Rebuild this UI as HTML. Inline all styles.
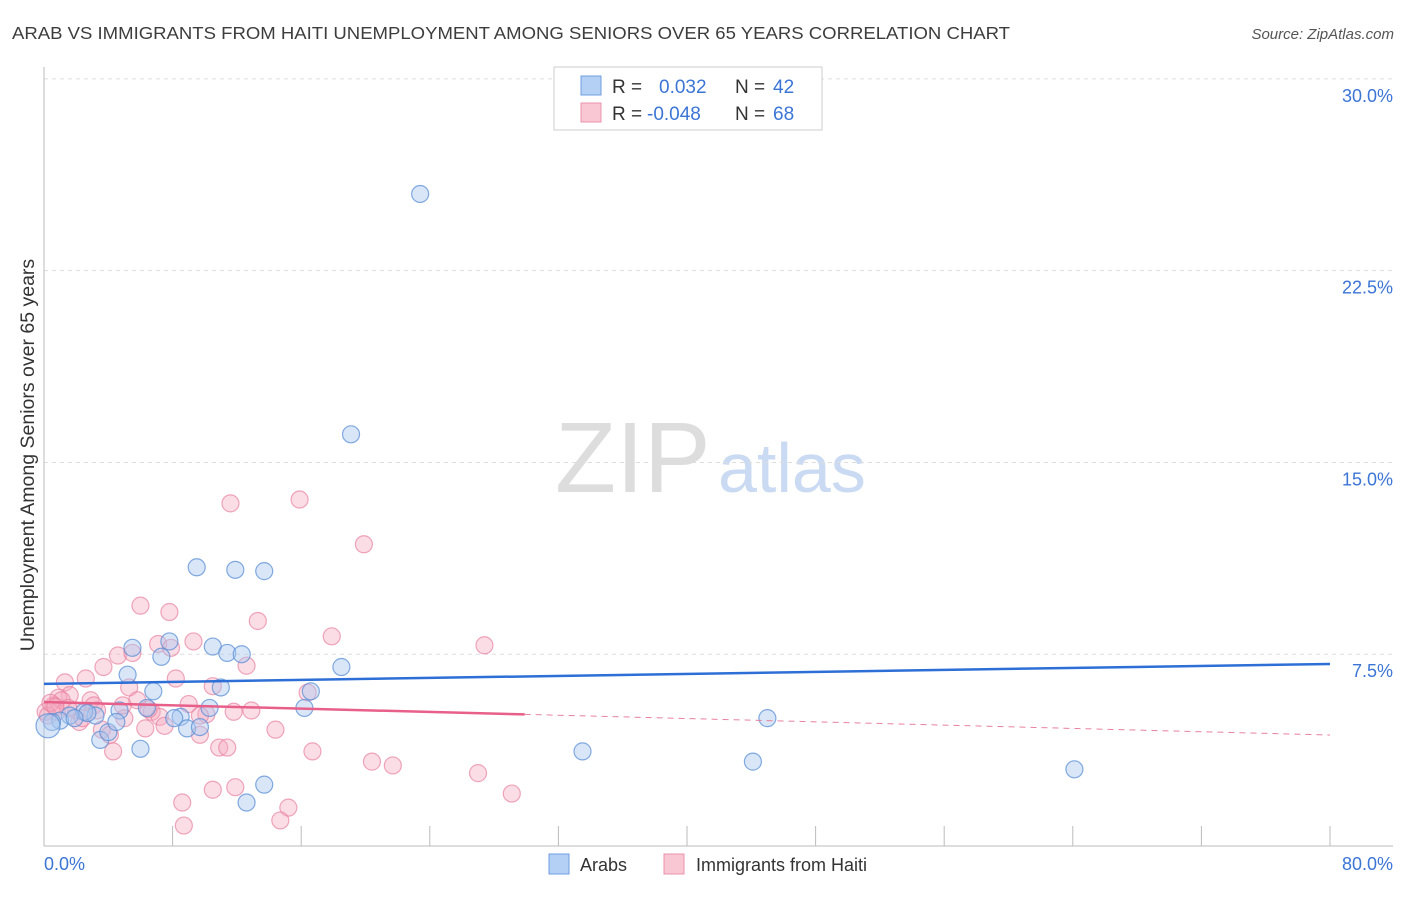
<!DOCTYPE html>
<html><head><meta charset="utf-8"><style>
body{margin:0;background:#fff;font-family:"Liberation Sans",sans-serif}
svg text{font-family:"Liberation Sans",sans-serif}
</style></head><body>
<svg id="c" width="1406" height="892">
<text x="12" y="39" font-size="17.5" fill="#3d3d3d" textLength="998" lengthAdjust="spacingAndGlyphs">ARAB VS IMMIGRANTS FROM HAITI UNEMPLOYMENT AMONG SENIORS OVER 65 YEARS CORRELATION CHART</text>
<text x="1394" y="39" font-size="15" fill="#555" text-anchor="end" font-style="italic">Source: ZipAtlas.com</text>
<text x="555" y="492" font-size="100" fill="#ddd" font-family="Liberation Serif">ZIP</text>
<text x="718" y="492" font-size="70" fill="#c9daf2">atlas</text>
<text transform="translate(34,455) rotate(-90)" font-size="19.5" fill="#333" text-anchor="middle">Unemployment Among Seniors over 65 years</text>
<g id="grid"></g><g id="pts"></g><g id="lines"></g>
<g>
<rect x="554" y="67" width="268" height="63" fill="#fff" stroke="#ccc"/>
<rect x="581" y="76" width="20" height="19" fill="#b4d0f4" stroke="#6f9ee0"/>
<rect x="581" y="103" width="20" height="19" fill="#f9c6d4" stroke="#eb93ad"/>
<text x="612" y="93" font-size="19" fill="#333">R =</text>
<text x="659" y="93" font-size="19" fill="#3b75d6">0.032</text>
<text x="735" y="93" font-size="19" fill="#333">N =</text>
<text x="773" y="93" font-size="19" fill="#3b75d6">42</text>
<text x="612" y="120" font-size="19" fill="#333">R =</text>
<text x="647" y="120" font-size="19" fill="#3b75d6">-0.048</text>
<text x="735" y="120" font-size="19" fill="#333">N =</text>
<text x="773" y="120" font-size="19" fill="#3b75d6">68</text>
</g>
<g>
<rect x="549" y="854" width="20" height="20" fill="#b4d0f4" stroke="#6f9ee0"/>
<text x="580" y="871" font-size="18" fill="#333">Arabs</text>
<rect x="664" y="854" width="20" height="20" fill="#f9c6d4" stroke="#eb93ad"/>
<text x="696" y="871" font-size="18" fill="#333">Immigrants from Haiti</text>
</g>
</svg>
<script>
const yTicks=[7.5,15,22.5,30];
const yTickLabels=["7.5%","15.0%","22.5%","30.0%"];
const xTicks=[0,8,16,24,32,40,48,56,64,72,80];
const xEndLabels=["0.0%","80.0%"];
const arabX=[23.4,19.1,9.5,11.9,13.7,7.8,5.5,10.5,11.4,12.3,7.3,18.5,5.2,6.8,11.0,16.6,16.2,10.3,8.5,8.1,6.4,4.7,3.2,2.5,1.6,1.0,0.5,0.25,3.5,4.0,4.5,8.9,9.7,6.0,13.7,12.6,33.5,44.1,45.0,64.1,2.7,1.9];
const arabY=[25.5,16.1,10.9,10.8,10.75,8.0,7.75,7.8,7.55,7.5,7.4,7.0,6.7,6.05,6.2,6.05,5.4,5.4,5.05,5.0,5.4,5.3,5.1,5.25,5.1,4.9,4.85,4.7,4.15,4.45,4.85,4.6,4.65,3.8,2.4,1.7,3.7,3.3,5.0,3.0,5.2,5.0];
const haitiX=[11.6,15.9,19.9,6.0,7.8,13.3,17.9,27.4,7.1,9.3,7.9,4.6,5.5,12.6,3.7,2.6,1.3,8.2,5.3,10.5,1.6,16.4,5.8,9.0,2.9,0.9,0.6,6.7,7.2,10.1,11.8,12.9,5.0,2.2,3.6,6.3,7.5,9.7,14.4,4.3,10.9,11.4,16.7,20.4,21.7,27.0,29.1,11.9,10.5,8.6,15.2,14.7,8.7,0.8,0.1,1.1,4.1,4.9,3.1,0.25,9.7,2.0,1.5,0.4,3.3,6.5,2.4,0.7];
const haitiY=[13.4,13.55,11.8,9.4,9.15,8.8,8.2,7.85,7.9,8.0,7.75,7.45,7.55,7.05,7.0,6.55,6.4,6.55,6.2,6.25,5.9,6.0,5.7,5.55,5.7,5.8,5.5,5.25,5.05,5.15,5.25,5.3,5.0,4.85,4.55,4.6,4.7,4.35,4.55,3.7,3.85,3.85,3.7,3.3,3.15,2.85,2.05,2.3,2.2,1.7,1.5,1.0,0.8,5.25,5.25,5.7,4.35,5.5,5.5,5.1,5.1,5.3,5.4,5.6,5.3,5.35,5.0,5.45];
const arabTrend=[6.34,7.12];
const haitiTrend=[5.63,4.34];
const haitiSolidEnd=29.9;
const NS="http://www.w3.org/2000/svg";
const X0=44,X1=1330,Y0=846,PX=25.57;
const xs=v=>X0+v/80*(X1-X0);
const ys=v=>Y0-v*PX;
function mk(t,a,p){const e=document.createElementNS(NS,t);for(const k in a)e.setAttribute(k,a[k]);p.appendChild(e);return e;}
const grid=document.getElementById('grid');
yTicks.forEach((t,i)=>{
 const l=mk('line',{x1:X0,x2:1393,y1:ys(t),y2:ys(t),stroke:'#ddd','stroke-dasharray':'4,4'},grid);
 
 
 const tx=mk('text',{x:1393,y:ys(t)+23,'font-size':18,fill:'#3b75d6','text-anchor':'end'},grid);
 tx.textContent=yTickLabels[i];
 
 
});
const ya=mk('line',{x1:X0,x2:X0,y1:67,y2:Y0,stroke:'#bbb'},grid);


const xa=mk('line',{x1:X0,x2:1393,y1:Y0,y2:Y0,stroke:'#bbb'},grid);


xTicks.forEach(t=>{
 const l=mk('line',{x1:xs(t),x2:xs(t),y1:Y0-20,y2:Y0,stroke:'#bbb'},grid);
 
 
});
const xl0=mk('text',{x:44,y:870,'font-size':18,fill:'#3b75d6'},grid);xl0.textContent=xEndLabels[0];


const xl1=mk('text',{x:1393,y:870,'font-size':18,fill:'#3b75d6','text-anchor':'end'},grid);xl1.textContent=xEndLabels[1];


const pts=document.getElementById('pts');
haitiX.forEach((x,i)=>{
 const c=mk('circle',{cx:xs(x),cy:ys(haitiY[i]),r:8.5,fill:'#f5a9c0','fill-opacity':0.4,stroke:'#e8819f','stroke-opacity':0.7,'stroke-width':1.2},pts);
 
 
});
arabX.forEach((x,i)=>{
 const c=mk('circle',{cx:xs(x),cy:ys(arabY[i]),r:(i==27?12:8.5),fill:'#a8c8f0','fill-opacity':0.45,stroke:'#5b8fd6','stroke-opacity':0.75,'stroke-width':1.2},pts);
 
 
});
const ln=document.getElementById('lines');
const b=mk('line',{x1:xs(0),y1:ys(arabTrend[0]),x2:xs(80),y2:ys(arabTrend[1]),stroke:'#2d6fd6','stroke-width':2.5},ln);


const hy=v=>haitiTrend[0]+(haitiTrend[1]-haitiTrend[0])*v/80;
const p1=mk('line',{x1:xs(0),y1:ys(hy(0)),x2:xs(haitiSolidEnd),y2:ys(hy(haitiSolidEnd)),stroke:'#e8608a','stroke-width':2.5},ln);


const p2=mk('line',{x1:xs(haitiSolidEnd),y1:ys(hy(haitiSolidEnd)),x2:xs(80),y2:ys(hy(80)),stroke:'#e8819f','stroke-width':1,'stroke-dasharray':'6,5'},ln);


</script>
</body></html>
